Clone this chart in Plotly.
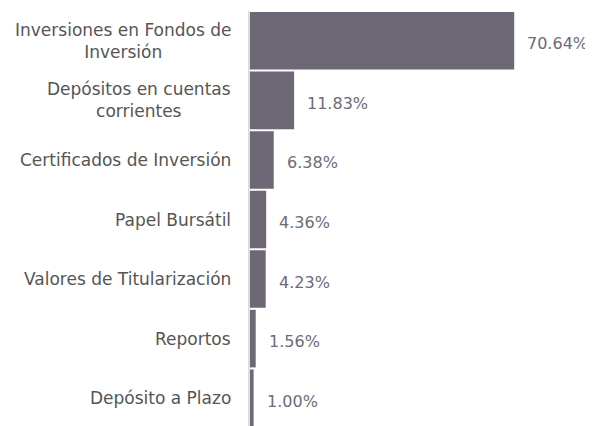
import plotly.graph_objects as go

categorias = [
    "Inversiones en Fondos de<br>Inversión",
    "Depósitos en cuentas<br>corrientes",
    "Certificados de Inversión",
    "Papel Bursátil",
    "Valores de Titularización",
    "Reportos",
    "Depósito a Plazo",
]
valores = [70.64, 11.83, 6.38, 4.36, 4.23, 1.56, 1.00]

color_barra = "#6e6775"
color_txt = "#555555"
fuente = "DejaVu Sans, sans-serif"

fig = go.Figure(go.Bar(
    x=valores, y=categorias, orientation="h",
    marker=dict(color=color_barra, line=dict(width=0)),
    hoverinfo="skip",
))

# etiquetas de categoría centradas, a la izquierda del eje
for cat in categorias:
    fig.add_annotation(
        x=0, y=cat, xref="x", yref="y",
        text=cat, showarrow=False,
        xanchor="right", align="center", xshift=-17,
        font=dict(size=17, color=color_txt, family=fuente),
    )

# valores a la derecha de cada barra
for cat, v in zip(categorias, valores):
    fig.add_annotation(
        x=v, y=cat, xref="x", yref="y",
        text=f"{v:.2f}%", showarrow=False,
        xanchor="left", xshift=11, yshift=-3,
        font=dict(size=16, color="#6e6a78", family=fuente),
    )

fig.update_layout(
    width=585, height=420,
    margin=dict(l=240, r=0, t=3, b=0),
    paper_bgcolor="white", plot_bgcolor="white",
    bargap=0.034,
    showlegend=False,
    xaxis=dict(range=[-0.5, 91.7], visible=False, showgrid=False, zeroline=False),
    yaxis=dict(autorange="reversed", showticklabels=False, showgrid=False,
               zeroline=False, showline=False),
    shapes=[dict(type="line", xref="x", yref="paper", x0=-0.3, x1=-0.3, y0=0, y1=1,
                 line=dict(color="#dcdcdc", width=2))],
)

fig.write_html("out.html")
